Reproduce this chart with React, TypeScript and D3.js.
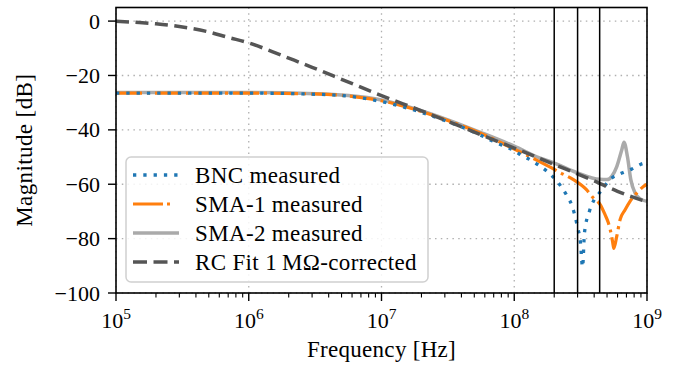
import React from "react";
import * as d3 from "d3";

const W = 688;
const H = 367;

const xTickExps = [5, 6, 7, 8, 9];
const yTicks = [0, -20, -40, -60, -80, -100];
const markerFreqs = [2e8, 3e8, 4.4e8];

const bncFreq = [1e5, 1e6, 3.16e6, 5.62e6, 1e7, 1.78e7, 3.16e7, 5.7e7, 6.8e7, 8.1e7, 1e8, 1.12e8, 1.32e8, 1.54e8, 1.79e8, 2.03e8, 2.28e8, 2.5e8, 2.72e8, 2.99e8, 3.15e8, 3.27e8, 3.38e8, 3.68e8, 4.0e8, 4.38e8, 5.43e8, 6.46e8, 7.69e8, 9.04e8, 1e9];
const bncDb = [-26.5, -26.5, -26.9, -27.6, -29.6, -32.8, -37.0, -42.2, -44.0, -45.7, -47.6, -49.2, -51.0, -53.1, -55.5, -58.1, -61.2, -64.3, -67.9, -75.5, -81.3, -90.5, -77.9, -70.0, -65.7, -63.2, -57.7, -55.9, -54.4, -52.6, -52.0];

const sma1Freq = [1e5, 1e6, 3.16e6, 5.62e6, 1e7, 1.78e7, 3.16e7, 5.62e7, 1e8, 1.5e8, 2e8, 2.21e8, 2.79e8, 3.5e8, 3.95e8, 4.44e8, 4.83e8, 5.1e8, 5.3e8, 5.5e8, 5.62e8, 5.92e8, 6.27e8, 6.84e8, 7.45e8, 8.38e8, 9.4e8, 1e9];
const sma1Db = [-26.5, -26.5, -26.8, -27.5, -29.3, -32.5, -36.6, -41.3, -47.1, -51.3, -54.5, -55.7, -58.3, -62.0, -65.1, -67.5, -71.2, -74.0, -77.0, -81.0, -83.6, -79.1, -73.0, -69.4, -66.3, -63.2, -60.8, -60.0];

const sma2Freq = [1e5, 1e6, 3.16e6, 5.62e6, 1e7, 1.78e7, 3.16e7, 5.62e7, 1e8, 1.57e8, 2e8, 2.96e8, 4.4e8, 5e8, 5.43e8, 5.92e8, 6.46e8, 6.71e8, 7.12e8, 7.55e8, 8.13e8, 8.87e8, 1e9];
const sma2Db = [-26.3, -26.3, -26.7, -27.4, -29.0, -32.2, -36.3, -41.0, -46.0, -50.4, -52.2, -55.7, -58.2, -58.3, -57.1, -53.5, -47.3, -44.6, -49.8, -58.3, -63.2, -65.4, -66.3];

const rcFreq = [1e5, 1.5e5, 2e5, 3e5, 5e5, 7e5, 1e6, 1.5e6, 2e6, 3e6, 5e6, 1e7, 2e7, 5e7, 1e8, 2e8, 4e8, 6e8, 1e9];
const rcDb = [-0.1, -0.5, -1.0, -2.0, -4.0, -6.0, -8.0, -11.2, -13.6, -17.0, -21.4, -27.4, -33.0, -40.8, -46.7, -52.7, -58.8, -62.6, -66.5];

const legendLabels = ["BNC measured", "SMA-1 measured", "SMA-2 measured", "RC Fit 1\u2009M\u03A9-corrected"];

const FONT = "'Liberation Serif', 'Times New Roman', serif";

export default function App() {
  const left = 116, right = 647, top = 7.5, bottom = 293;
  const x = d3.scaleLog().domain([1e5, 1e9]).range([left, right]);
  const y = d3.scaleLinear().domain([-100, 5]).range([bottom, top]);
  const line = d3
    .line<[number, number]>()
    .x((d) => x(d[0]))
    .y((d) => y(d[1]))
    .curve(d3.curveMonotoneX);
  const zip = (f: number[], v: number[]) => f.map((ff, i) => [ff, v[i]] as [number, number]);

  const series = [
    { key: "sma2", d: line(zip(sma2Freq, sma2Db)), stroke: "#aaaaaa", w: 3.5, dash: undefined as string | undefined },
    { key: "sma1", d: line(zip(sma1Freq, sma1Db)), stroke: "#ff7f0e", w: 3.2, dash: "26 5 3 5" },
    { key: "bnc", d: line(zip(bncFreq, bncDb)), stroke: "#1f77b4", w: 3.3, dash: "3.3 7" },
    { key: "rc", d: line(zip(rcFreq, rcDb)), stroke: "#555555", w: 3.5, dash: "13 6.5" },
  ];

  const legendStyles = [
    { stroke: "#1f77b4", w: 3.3, dash: "3.3 7" },
    { stroke: "#ff7f0e", w: 3.2, dash: "30 4 3 9" },
    { stroke: "#aaaaaa", w: 3.5, dash: undefined as string | undefined },
    { stroke: "#555555", w: 3.5, dash: "14 6.5" },
  ];

  const minorTicks: number[] = [];
  for (let k = 5; k < 9; k++) for (let m = 2; m <= 9; m++) minorTicks.push(m * Math.pow(10, k));

  const legX = 126, legY = 157, legW = 302, legH = 125;
  const rowY = [175, 204, 233, 262];

  return (
    <svg width={W} height={H} style={{ position: "absolute", left: 0, top: 0, background: "#fff" }} fontFamily={FONT}>
      <rect x={0} y={0} width={W} height={H} fill="#fff" />
      <g stroke="#b0b0b0" strokeWidth={1.3} strokeDasharray="1.5 4.3">
        {xTickExps.map((e) => (
          <line key={"gx" + e} x1={x(Math.pow(10, e))} x2={x(Math.pow(10, e))} y1={top} y2={bottom} />
        ))}
        {yTicks.map((t) => (
          <line key={"gy" + t} x1={left} x2={right} y1={y(t)} y2={y(t)} />
        ))}
      </g>
      <g fill="none">
        {series.map((s) => (
          <path key={s.key} d={s.d || ""} stroke={s.stroke} strokeWidth={s.w} strokeDasharray={s.dash} strokeLinecap="butt" strokeLinejoin="round" />
        ))}
      </g>
      <g stroke="#000" strokeWidth={1.5}>
        {markerFreqs.map((f) => (
          <line key={"m" + f} x1={x(f)} x2={x(f)} y1={top} y2={bottom} />
        ))}
      </g>
      <rect x={legX} y={legY} width={legW} height={legH} rx={5} ry={5} fill="#fff" fillOpacity={0.85} stroke="#d0d0d0" strokeWidth={1.5} />
      {legendLabels.map((lab, i) => (
        <g key={lab}>
          <line x1={133} x2={179} y1={rowY[i]} y2={rowY[i]} stroke={legendStyles[i].stroke} strokeWidth={legendStyles[i].w} strokeDasharray={legendStyles[i].dash} />
          <text x={195} y={rowY[i] + 7.5} fontSize={23} letterSpacing={0.35} fill="#000">
            {lab}
          </text>
        </g>
      ))}
      <rect x={left} y={top} width={right - left} height={bottom - top} fill="none" stroke="#000" strokeWidth={1.6} />
      <g stroke="#000" strokeWidth={1.4}>
        {xTickExps.map((e) => (
          <line key={"xt" + e} x1={x(Math.pow(10, e))} x2={x(Math.pow(10, e))} y1={bottom} y2={bottom + 8} />
        ))}
        {minorTicks.map((f) => (
          <line key={"xm" + f} x1={x(f)} x2={x(f)} y1={bottom} y2={bottom + 4.5} strokeWidth={1.1} />
        ))}
        {yTicks.map((t) => (
          <line key={"yt" + t} x1={left - 8} x2={left} y1={y(t)} y2={y(t)} />
        ))}
      </g>
      {xTickExps.map((e) => (
        <text key={"xl" + e} x={x(Math.pow(10, e))} y={328} fontSize={22} textAnchor="middle" fill="#000">
          <tspan>10</tspan>
          <tspan fontSize={15.5} dy={-9.5}>{e}</tspan>
        </text>
      ))}
      {yTicks.map((t) => (
        <text key={"yl" + t} x={100} y={y(t) + 7.5} fontSize={22} textAnchor="end" fill="#000">
          {t < 0 ? "\u2212" + Math.abs(t) : String(t)}
        </text>
      ))}
      <text x={(left + right) / 2} y={357} fontSize={23} letterSpacing={0.3} textAnchor="middle" fill="#000">
        Frequency [Hz]
      </text>
      <text transform={`translate(32, ${(top + bottom) / 2}) rotate(-90)`} fontSize={23} letterSpacing={0.4} textAnchor="middle" fill="#000">
        Magnitude [dB]
      </text>
    </svg>
  );
}
